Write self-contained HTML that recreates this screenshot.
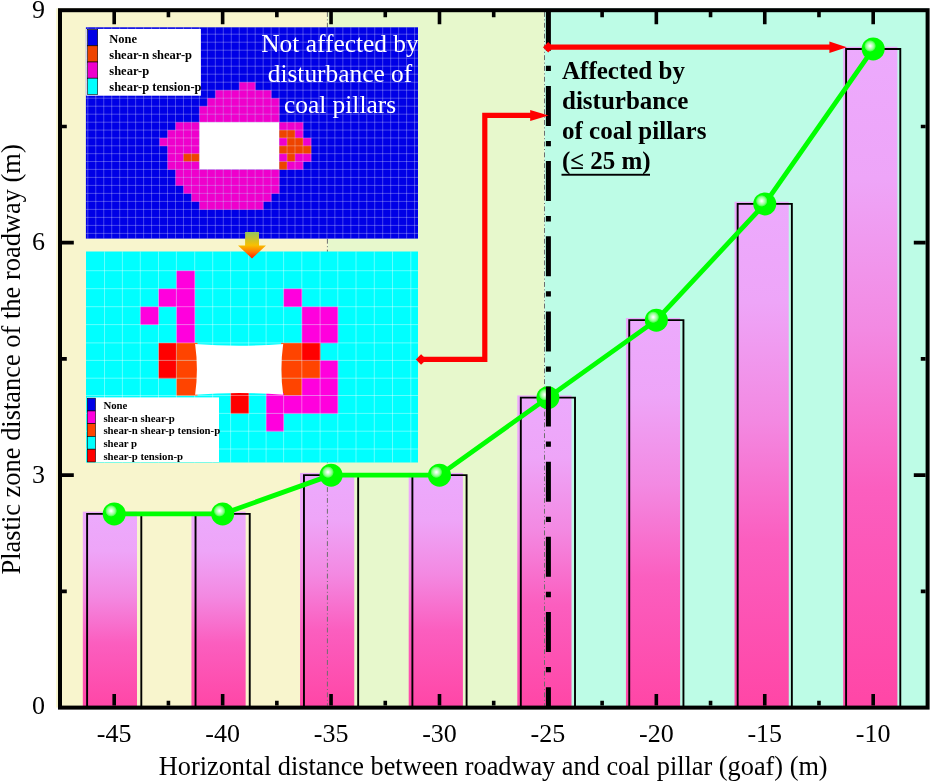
<!DOCTYPE html>
<html><head><meta charset="utf-8"><title>Plastic zone chart</title><style>html,body{margin:0;padding:0;background:#fff;}
svg{display:block;}
text{font-family:"Liberation Serif","Times New Roman",serif;}
.tk{font-size:26px;fill:#000;}
.ax{font-size:26.3px;fill:#000;}
.na{font-size:25.4px;fill:#fff;text-anchor:middle;}
.af{font-size:25px;font-weight:bold;fill:#000;}
.lg1{font-size:12.5px;font-weight:bold;fill:#000;}
.lg2{font-size:10.8px;font-weight:bold;fill:#000;}
</style></head>
<body><svg width="930" height="781" viewBox="0 0 930 781">
<defs>
<linearGradient id="bg" x1="0" y1="0" x2="0" y2="1">
<stop offset="0" stop-color="#ecaafd"/><stop offset="0.2" stop-color="#eea5f8"/><stop offset="0.43" stop-color="#f389e2"/><stop offset="0.67" stop-color="#fb5ebf"/><stop offset="1" stop-color="#ff46a6"/>
</linearGradient>
<linearGradient id="og" x1="0" y1="0" x2="0" y2="1">
<stop offset="0" stop-color="#92c460"/><stop offset="0.5" stop-color="#f8c000"/><stop offset="0.75" stop-color="#ff7a00"/><stop offset="1" stop-color="#ff1a00"/>
</linearGradient>
<radialGradient id="sg" cx="0.365" cy="0.37" r="0.255" fx="0.365" fy="0.37">
<stop offset="0" stop-color="#ffffff"/><stop offset="0.12" stop-color="#f6fff6"/><stop offset="0.38" stop-color="#c4ffc4"/><stop offset="0.68" stop-color="#8cff8c"/><stop offset="0.88" stop-color="#4cff4c"/><stop offset="1" stop-color="#00ff00"/>
</radialGradient>
</defs>
<rect width="930" height="781" fill="#fff"/>
<rect x="56.2" y="8.3" width="271.2" height="699.3" fill="#f8f5cd"/>
<rect x="327.4" y="8.3" width="217.2" height="699.3" fill="#e7f8cc"/>
<rect x="544.6" y="8.3" width="383" height="699.3" fill="#bdfce6"/>
<rect x="82.81" y="511.68" width="54.2" height="195.93" fill="url(#bg)"/>
<rect x="191.44" y="511.68" width="54.2" height="195.93" fill="url(#bg)"/>
<rect x="300.06" y="472.93" width="54.2" height="234.67" fill="url(#bg)"/>
<rect x="408.69" y="472.93" width="54.2" height="234.67" fill="url(#bg)"/>
<rect x="517.31" y="395.44" width="54.2" height="312.16" fill="url(#bg)"/>
<rect x="625.94" y="317.95" width="54.2" height="389.65" fill="url(#bg)"/>
<rect x="734.56" y="201.72" width="54.2" height="505.88" fill="url(#bg)"/>
<rect x="843.19" y="46.74" width="54.2" height="660.87" fill="url(#bg)"/>
<path d="M87.11 707.6V513.88H141.31V707.6" fill="none" stroke="#000" stroke-width="1.9" stroke-linejoin="miter"/>
<path d="M195.54 707.6V513.88H249.74V707.6" fill="none" stroke="#000" stroke-width="1.9" stroke-linejoin="miter"/>
<path d="M303.96 707.6V475.13H358.16V707.6" fill="none" stroke="#000" stroke-width="1.9" stroke-linejoin="miter"/>
<path d="M412.39 707.6V475.13H466.59V707.6" fill="none" stroke="#000" stroke-width="1.9" stroke-linejoin="miter"/>
<path d="M520.81 707.6V397.64H575.01V707.6" fill="none" stroke="#000" stroke-width="1.9" stroke-linejoin="miter"/>
<path d="M629.24 707.6V320.15H683.44V707.6" fill="none" stroke="#000" stroke-width="1.9" stroke-linejoin="miter"/>
<path d="M737.66 707.6V203.92H791.86V707.6" fill="none" stroke="#000" stroke-width="1.9" stroke-linejoin="miter"/>
<path d="M846.09 707.6V48.94H900.29V707.6" fill="none" stroke="#000" stroke-width="1.9" stroke-linejoin="miter"/>
<line x1="327.4" y1="12" x2="327.4" y2="705.6" stroke="#6e6e6e" stroke-width="1" stroke-dasharray="4.9 2.5 1 2.4"/>
<line x1="544.5" y1="12" x2="544.5" y2="705.6" stroke="#6e6e6e" stroke-width="1" stroke-dasharray="4.9 2.5 1 2.4"/>
<rect x="85.9" y="27.3" width="332.1" height="211.3" fill="#0000e6"/>
<rect x="239.25" y="82.2" width="8.27" height="8.3" fill="#ee00cc"/>
<rect x="247.22" y="82.2" width="8.27" height="8.3" fill="#ee00cc"/>
<rect x="215.34" y="90.2" width="8.27" height="8.3" fill="#ee00cc"/>
<rect x="223.31" y="90.2" width="8.27" height="8.3" fill="#ee00cc"/>
<rect x="231.28" y="90.2" width="8.27" height="8.3" fill="#ee00cc"/>
<rect x="239.25" y="90.2" width="8.27" height="8.3" fill="#ee00cc"/>
<rect x="247.22" y="90.2" width="8.27" height="8.3" fill="#ee00cc"/>
<rect x="255.19" y="90.2" width="8.27" height="8.3" fill="#ee00cc"/>
<rect x="263.16" y="90.2" width="8.27" height="8.3" fill="#ee00cc"/>
<rect x="207.37" y="98.2" width="8.27" height="8.3" fill="#ee00cc"/>
<rect x="215.34" y="98.2" width="8.27" height="8.3" fill="#ee00cc"/>
<rect x="223.31" y="98.2" width="8.27" height="8.3" fill="#ee00cc"/>
<rect x="231.28" y="98.2" width="8.27" height="8.3" fill="#ee00cc"/>
<rect x="239.25" y="98.2" width="8.27" height="8.3" fill="#ee00cc"/>
<rect x="247.22" y="98.2" width="8.27" height="8.3" fill="#ee00cc"/>
<rect x="255.19" y="98.2" width="8.27" height="8.3" fill="#ee00cc"/>
<rect x="263.16" y="98.2" width="8.27" height="8.3" fill="#ee00cc"/>
<rect x="271.13" y="98.2" width="8.27" height="8.3" fill="#ee00cc"/>
<rect x="199.4" y="106.2" width="8.27" height="8.3" fill="#ee00cc"/>
<rect x="207.37" y="106.2" width="8.27" height="8.3" fill="#ee00cc"/>
<rect x="215.34" y="106.2" width="8.27" height="8.3" fill="#ee00cc"/>
<rect x="223.31" y="106.2" width="8.27" height="8.3" fill="#ee00cc"/>
<rect x="231.28" y="106.2" width="8.27" height="8.3" fill="#ee00cc"/>
<rect x="239.25" y="106.2" width="8.27" height="8.3" fill="#ee00cc"/>
<rect x="247.22" y="106.2" width="8.27" height="8.3" fill="#ee00cc"/>
<rect x="255.19" y="106.2" width="8.27" height="8.3" fill="#ee00cc"/>
<rect x="263.16" y="106.2" width="8.27" height="8.3" fill="#ee00cc"/>
<rect x="271.13" y="106.2" width="8.27" height="8.3" fill="#ee00cc"/>
<rect x="199.4" y="114.2" width="8.27" height="8.3" fill="#ee00cc"/>
<rect x="207.37" y="114.2" width="8.27" height="8.3" fill="#ee00cc"/>
<rect x="215.34" y="114.2" width="8.27" height="8.3" fill="#ee00cc"/>
<rect x="223.31" y="114.2" width="8.27" height="8.3" fill="#ee00cc"/>
<rect x="231.28" y="114.2" width="8.27" height="8.3" fill="#ee00cc"/>
<rect x="239.25" y="114.2" width="8.27" height="8.3" fill="#ee00cc"/>
<rect x="247.22" y="114.2" width="8.27" height="8.3" fill="#ee00cc"/>
<rect x="255.19" y="114.2" width="8.27" height="8.3" fill="#ee00cc"/>
<rect x="263.16" y="114.2" width="8.27" height="8.3" fill="#ee00cc"/>
<rect x="271.13" y="114.2" width="8.27" height="8.3" fill="#ee00cc"/>
<rect x="175.49" y="122.2" width="8.27" height="8.17" fill="#ee00cc"/>
<rect x="183.46" y="122.2" width="8.27" height="8.17" fill="#ee00cc"/>
<rect x="191.43" y="122.2" width="8.27" height="8.17" fill="#ee00cc"/>
<rect x="279.1" y="122.2" width="8.27" height="8.17" fill="#ee00cc"/>
<rect x="287.07" y="122.2" width="8.27" height="8.17" fill="#ee00cc"/>
<rect x="295.04" y="122.2" width="8.27" height="8.17" fill="#ee00cc"/>
<rect x="167.52" y="130.07" width="8.27" height="8.17" fill="#ee00cc"/>
<rect x="175.49" y="130.07" width="8.27" height="8.17" fill="#ee00cc"/>
<rect x="183.46" y="130.07" width="8.27" height="8.17" fill="#ee00cc"/>
<rect x="191.43" y="130.07" width="8.27" height="8.17" fill="#ee00cc"/>
<rect x="279.1" y="130.07" width="8.27" height="8.17" fill="#ee4400"/>
<rect x="287.07" y="130.07" width="8.27" height="8.17" fill="#ee4400"/>
<rect x="295.04" y="130.07" width="8.27" height="8.17" fill="#ee00cc"/>
<rect x="159.55" y="137.93" width="8.27" height="8.17" fill="#ee00cc"/>
<rect x="167.52" y="137.93" width="8.27" height="8.17" fill="#ee00cc"/>
<rect x="175.49" y="137.93" width="8.27" height="8.17" fill="#ee00cc"/>
<rect x="183.46" y="137.93" width="8.27" height="8.17" fill="#ee00cc"/>
<rect x="191.43" y="137.93" width="8.27" height="8.17" fill="#ee00cc"/>
<rect x="279.1" y="137.93" width="8.27" height="8.17" fill="#ee00cc"/>
<rect x="287.07" y="137.93" width="8.27" height="8.17" fill="#ee4400"/>
<rect x="295.04" y="137.93" width="8.27" height="8.17" fill="#ee4400"/>
<rect x="303.01" y="137.93" width="8.27" height="8.17" fill="#ee00cc"/>
<rect x="167.52" y="145.8" width="8.27" height="8.17" fill="#ee00cc"/>
<rect x="175.49" y="145.8" width="8.27" height="8.17" fill="#ee00cc"/>
<rect x="183.46" y="145.8" width="8.27" height="8.17" fill="#ee00cc"/>
<rect x="191.43" y="145.8" width="8.27" height="8.17" fill="#ee00cc"/>
<rect x="279.1" y="145.8" width="8.27" height="8.17" fill="#ee4400"/>
<rect x="287.07" y="145.8" width="8.27" height="8.17" fill="#ee4400"/>
<rect x="295.04" y="145.8" width="8.27" height="8.17" fill="#ee4400"/>
<rect x="303.01" y="145.8" width="8.27" height="8.17" fill="#ee4400"/>
<rect x="167.52" y="153.67" width="8.27" height="8.17" fill="#ee00cc"/>
<rect x="175.49" y="153.67" width="8.27" height="8.17" fill="#ee00cc"/>
<rect x="183.46" y="153.67" width="8.27" height="8.17" fill="#ee4400"/>
<rect x="191.43" y="153.67" width="8.27" height="8.17" fill="#ee4400"/>
<rect x="279.1" y="153.67" width="8.27" height="8.17" fill="#ee00cc"/>
<rect x="287.07" y="153.67" width="8.27" height="8.17" fill="#ee4400"/>
<rect x="295.04" y="153.67" width="8.27" height="8.17" fill="#ee00cc"/>
<rect x="303.01" y="153.67" width="8.27" height="8.17" fill="#ee00cc"/>
<rect x="167.52" y="161.53" width="8.27" height="8.17" fill="#ee00cc"/>
<rect x="175.49" y="161.53" width="8.27" height="8.17" fill="#ee00cc"/>
<rect x="183.46" y="161.53" width="8.27" height="8.17" fill="#ee00cc"/>
<rect x="191.43" y="161.53" width="8.27" height="8.17" fill="#ee00cc"/>
<rect x="279.1" y="161.53" width="8.27" height="8.17" fill="#ee4400"/>
<rect x="287.07" y="161.53" width="8.27" height="8.17" fill="#ee00cc"/>
<rect x="295.04" y="161.53" width="8.27" height="8.17" fill="#ee00cc"/>
<rect x="175.49" y="169.4" width="8.27" height="8.3" fill="#ee00cc"/>
<rect x="183.46" y="169.4" width="8.27" height="8.3" fill="#ee00cc"/>
<rect x="191.43" y="169.4" width="8.27" height="8.3" fill="#ee00cc"/>
<rect x="199.4" y="169.4" width="8.27" height="8.3" fill="#ee00cc"/>
<rect x="207.37" y="169.4" width="8.27" height="8.3" fill="#ee00cc"/>
<rect x="215.34" y="169.4" width="8.27" height="8.3" fill="#ee00cc"/>
<rect x="223.31" y="169.4" width="8.27" height="8.3" fill="#ee00cc"/>
<rect x="231.28" y="169.4" width="8.27" height="8.3" fill="#ee00cc"/>
<rect x="239.25" y="169.4" width="8.27" height="8.3" fill="#ee00cc"/>
<rect x="247.22" y="169.4" width="8.27" height="8.3" fill="#ee00cc"/>
<rect x="255.19" y="169.4" width="8.27" height="8.3" fill="#ee00cc"/>
<rect x="263.16" y="169.4" width="8.27" height="8.3" fill="#ee00cc"/>
<rect x="271.13" y="169.4" width="8.27" height="8.3" fill="#ee00cc"/>
<rect x="175.49" y="177.4" width="8.27" height="8.3" fill="#ee00cc"/>
<rect x="183.46" y="177.4" width="8.27" height="8.3" fill="#ee00cc"/>
<rect x="191.43" y="177.4" width="8.27" height="8.3" fill="#ee00cc"/>
<rect x="199.4" y="177.4" width="8.27" height="8.3" fill="#ee00cc"/>
<rect x="207.37" y="177.4" width="8.27" height="8.3" fill="#ee00cc"/>
<rect x="215.34" y="177.4" width="8.27" height="8.3" fill="#ee00cc"/>
<rect x="223.31" y="177.4" width="8.27" height="8.3" fill="#ee00cc"/>
<rect x="231.28" y="177.4" width="8.27" height="8.3" fill="#ee00cc"/>
<rect x="239.25" y="177.4" width="8.27" height="8.3" fill="#ee00cc"/>
<rect x="247.22" y="177.4" width="8.27" height="8.3" fill="#ee00cc"/>
<rect x="255.19" y="177.4" width="8.27" height="8.3" fill="#ee00cc"/>
<rect x="263.16" y="177.4" width="8.27" height="8.3" fill="#ee00cc"/>
<rect x="271.13" y="177.4" width="8.27" height="8.3" fill="#ee00cc"/>
<rect x="183.46" y="185.4" width="8.27" height="8.3" fill="#ee00cc"/>
<rect x="191.43" y="185.4" width="8.27" height="8.3" fill="#ee00cc"/>
<rect x="199.4" y="185.4" width="8.27" height="8.3" fill="#ee00cc"/>
<rect x="207.37" y="185.4" width="8.27" height="8.3" fill="#ee00cc"/>
<rect x="215.34" y="185.4" width="8.27" height="8.3" fill="#ee00cc"/>
<rect x="223.31" y="185.4" width="8.27" height="8.3" fill="#ee00cc"/>
<rect x="231.28" y="185.4" width="8.27" height="8.3" fill="#ee00cc"/>
<rect x="239.25" y="185.4" width="8.27" height="8.3" fill="#ee00cc"/>
<rect x="247.22" y="185.4" width="8.27" height="8.3" fill="#ee00cc"/>
<rect x="255.19" y="185.4" width="8.27" height="8.3" fill="#ee00cc"/>
<rect x="263.16" y="185.4" width="8.27" height="8.3" fill="#ee00cc"/>
<rect x="271.13" y="185.4" width="8.27" height="8.3" fill="#ee00cc"/>
<rect x="191.43" y="193.4" width="8.27" height="8.3" fill="#ee00cc"/>
<rect x="199.4" y="193.4" width="8.27" height="8.3" fill="#ee00cc"/>
<rect x="207.37" y="193.4" width="8.27" height="8.3" fill="#ee00cc"/>
<rect x="215.34" y="193.4" width="8.27" height="8.3" fill="#ee00cc"/>
<rect x="223.31" y="193.4" width="8.27" height="8.3" fill="#ee00cc"/>
<rect x="231.28" y="193.4" width="8.27" height="8.3" fill="#ee00cc"/>
<rect x="239.25" y="193.4" width="8.27" height="8.3" fill="#ee00cc"/>
<rect x="247.22" y="193.4" width="8.27" height="8.3" fill="#ee00cc"/>
<rect x="255.19" y="193.4" width="8.27" height="8.3" fill="#ee00cc"/>
<rect x="263.16" y="193.4" width="8.27" height="8.3" fill="#ee00cc"/>
<rect x="199.4" y="201.4" width="8.27" height="8.3" fill="#ee00cc"/>
<rect x="207.37" y="201.4" width="8.27" height="8.3" fill="#ee00cc"/>
<rect x="215.34" y="201.4" width="8.27" height="8.3" fill="#ee00cc"/>
<rect x="223.31" y="201.4" width="8.27" height="8.3" fill="#ee00cc"/>
<rect x="231.28" y="201.4" width="8.27" height="8.3" fill="#ee00cc"/>
<rect x="239.25" y="201.4" width="8.27" height="8.3" fill="#ee00cc"/>
<rect x="247.22" y="201.4" width="8.27" height="8.3" fill="#ee00cc"/>
<rect x="255.19" y="201.4" width="8.27" height="8.3" fill="#ee00cc"/>
<rect x="199.4" y="122.2" width="79.7" height="47.2" fill="#fff"/>
<path d="M87.82 27.3V238.6M95.79 27.3V238.6M103.76 27.3V238.6M111.73 27.3V238.6M119.7 27.3V238.6M127.67 27.3V238.6M135.64 27.3V238.6M143.61 27.3V238.6M151.58 27.3V238.6M159.55 27.3V238.6M167.52 27.3V238.6M175.49 27.3V238.6M183.46 27.3V238.6M191.43 27.3V238.6M199.4 27.3V238.6M207.37 27.3V238.6M215.34 27.3V238.6M223.31 27.3V238.6M231.28 27.3V238.6M239.25 27.3V238.6M247.22 27.3V238.6M255.19 27.3V238.6M263.16 27.3V238.6M271.13 27.3V238.6M279.1 27.3V238.6M287.07 27.3V238.6M295.04 27.3V238.6M303.01 27.3V238.6M310.98 27.3V238.6M318.95 27.3V238.6M326.92 27.3V238.6M334.89 27.3V238.6M342.86 27.3V238.6M350.83 27.3V238.6M358.8 27.3V238.6M366.77 27.3V238.6M374.74 27.3V238.6M382.71 27.3V238.6M390.68 27.3V238.6M398.65 27.3V238.6M406.62 27.3V238.6M414.59 27.3V238.6M85.9 34.2H418.0M85.9 42.2H418.0M85.9 50.2H418.0M85.9 58.2H418.0M85.9 66.2H418.0M85.9 74.2H418.0M85.9 82.2H418.0M85.9 90.2H418.0M85.9 98.2H418.0M85.9 106.2H418.0M85.9 114.2H418.0M85.9 122.2H418.0M85.9 130.07H418.0M85.9 137.93H418.0M85.9 145.8H418.0M85.9 153.67H418.0M85.9 161.53H418.0M85.9 169.4H418.0M85.9 177.4H418.0M85.9 185.4H418.0M85.9 193.4H418.0M85.9 201.4H418.0M85.9 209.4H418.0M85.9 217.4H418.0M85.9 225.4H418.0M85.9 233.4H418.0" stroke="#ffffff" stroke-opacity="0.28" stroke-width="1" fill="none"/>
<rect x="86.2" y="28.9" width="114.7" height="66.8" fill="#fff"/>
<rect x="87.6" y="29.6" width="10.1" height="16.2" fill="#0000e6" stroke="#000" stroke-width="0.6"/>
<rect x="87.6" y="45.8" width="10.1" height="16.2" fill="#ee4400" stroke="#000" stroke-width="0.6"/>
<rect x="87.6" y="62" width="10.1" height="16.2" fill="#ee00cc" stroke="#000" stroke-width="0.6"/>
<rect x="87.6" y="78.2" width="10.1" height="16.2" fill="#00ffff" stroke="#000" stroke-width="0.6"/>
<text x="109.3" y="42.9" class="lg1">None</text>
<text x="109.3" y="58.9" class="lg1">shear-n shear-p</text>
<text x="109.3" y="74.9" class="lg1">shear-p</text>
<text x="109.3" y="90.9" class="lg1">shear-p tension-p</text>
<text x="340" y="51.7" class="na">Not affected by</text>
<text x="340" y="82.45" class="na">disturbance of</text>
<text x="340" y="113.2" class="na">coal pillars</text>
<rect x="86" y="251.5" width="332" height="211" fill="#00ffff"/>
<rect x="176.4" y="270.7" width="18.6" height="18.3" fill="#ff00dd"/>
<rect x="176.4" y="288.7" width="18.6" height="18.3" fill="#ff00dd"/>
<rect x="158.5" y="288.7" width="18.2" height="18.3" fill="#ff00dd"/>
<rect x="283.6" y="288.7" width="18.5" height="18.3" fill="#ff00dd"/>
<rect x="176.4" y="306.7" width="18.6" height="18.2" fill="#ff00dd"/>
<rect x="140.3" y="306.7" width="18.5" height="18.2" fill="#ff00dd"/>
<rect x="301.8" y="306.7" width="18.6" height="18.2" fill="#ff00dd"/>
<rect x="320.1" y="306.7" width="18" height="18.2" fill="#ff00dd"/>
<rect x="176.4" y="324.6" width="18.6" height="18.6" fill="#ff00dd"/>
<rect x="301.8" y="324.6" width="18.6" height="18.6" fill="#ff00dd"/>
<rect x="320.1" y="324.6" width="18" height="18.6" fill="#ff00dd"/>
<rect x="158.5" y="342.9" width="18.2" height="17.8" fill="#ff0000"/>
<rect x="158.5" y="360.4" width="18.2" height="18.1" fill="#ff0000"/>
<rect x="176.4" y="342.9" width="21.1" height="17.8" fill="#ff4400"/>
<rect x="281.1" y="342.9" width="21" height="17.8" fill="#ff4400"/>
<rect x="176.4" y="360.4" width="21.1" height="18.1" fill="#ff4400"/>
<rect x="281.1" y="360.4" width="21" height="18.1" fill="#ff4400"/>
<rect x="301.8" y="360.4" width="18.6" height="18.1" fill="#ff4400"/>
<rect x="176.4" y="378.2" width="21.1" height="17.6" fill="#ff4400"/>
<rect x="281.1" y="378.2" width="21" height="17.6" fill="#ff4400"/>
<rect x="301.8" y="342.9" width="18.6" height="17.8" fill="#ff0000"/>
<rect x="301.8" y="378.2" width="18.6" height="17.6" fill="#ff00dd"/>
<rect x="320.1" y="378.2" width="18" height="17.6" fill="#ff00dd"/>
<rect x="320.1" y="360.4" width="18" height="18.1" fill="#ff00dd"/>
<rect x="230.6" y="393" width="18.4" height="20.7" fill="#ff0000"/>
<rect x="266.1" y="393" width="17.8" height="20.7" fill="#ff00dd"/>
<rect x="283.6" y="395.5" width="18.5" height="18.2" fill="#ff00dd"/>
<rect x="301.8" y="395.5" width="18.6" height="18.2" fill="#ff00dd"/>
<rect x="320.1" y="395.5" width="18" height="18.2" fill="#ff00dd"/>
<rect x="266.1" y="413.4" width="17.8" height="18.1" fill="#ff00dd"/>
<path d="M104.5 251.5V462.5M122.4 251.5V462.5M140.3 251.5V462.5M158.5 251.5V462.5M176.4 251.5V462.5M194.7 251.5V342.9M194.7 395.5V462.5M212.7 251.5V462.5M230.6 251.5V462.5M248.7 251.5V462.5M266.1 251.5V462.5M283.6 251.5V342.9M283.6 395.5V462.5M301.8 251.5V462.5M320.1 251.5V462.5M337.8 251.5V462.5M356 251.5V462.5M374.3 251.5V462.5M392.5 251.5V462.5M410.8 251.5V462.5M86 270.7H418M86 288.7H418M86 306.7H418M86 324.6H418M86 342.9H418M86 360.4H418M86 378.2H418M86 395.5H418M86 413.4H418M86 431.2H418M86 449H418" stroke="#ffffff" stroke-opacity="0.38" stroke-width="1" fill="none"/>
<path d="M195.1 344 Q239 347.6 283.2 344 Q279.6 369.4 283.2 394.8 Q239 391.2 195.1 394.8 Q198.7 369.4 195.1 344Z" fill="#fff"/>
<rect x="86.9" y="397.4" width="132.1" height="64.6" fill="#fff"/>
<rect x="87.3" y="398.2" width="8.2" height="12.75" fill="#0000e6" stroke="#000" stroke-width="0.6"/>
<rect x="87.3" y="410.95" width="8.2" height="12.75" fill="#ff00dd" stroke="#000" stroke-width="0.6"/>
<rect x="87.3" y="423.7" width="8.2" height="12.75" fill="#ff4400" stroke="#000" stroke-width="0.6"/>
<rect x="87.3" y="436.45" width="8.2" height="12.75" fill="#00ffff" stroke="#000" stroke-width="0.6"/>
<rect x="87.3" y="449.2" width="8.2" height="12.75" fill="#ff0000" stroke="#000" stroke-width="0.6"/>
<text x="103.4" y="408.9" class="lg2">None</text>
<text x="103.4" y="421.6" class="lg2">shear-n shear-p</text>
<text x="103.4" y="434.3" class="lg2">shear-n shear-p tension-p</text>
<text x="103.4" y="447" class="lg2">shear p</text>
<text x="103.4" y="459.7" class="lg2">shear-p tension-p</text>
<path d="M245.1 232H259V245.4H266L252 258.5L238 245.4H245.1Z" fill="url(#og)"/>
<polyline points="114.21,513.88 222.64,513.88 331.06,475.13 439.49,475.13 547.91,397.64 656.34,320.15 764.76,203.92 873.19,48.94" fill="none" stroke="#00ff00" stroke-width="4.8" stroke-linejoin="round"/>
<circle cx="114.21" cy="513.88" r="11.5" fill="url(#sg)"/>
<circle cx="222.64" cy="513.88" r="11.5" fill="url(#sg)"/>
<circle cx="331.06" cy="475.13" r="11.5" fill="url(#sg)"/>
<circle cx="439.49" cy="475.13" r="11.5" fill="url(#sg)"/>
<circle cx="547.91" cy="397.64" r="11.5" fill="url(#sg)"/>
<circle cx="656.34" cy="320.15" r="11.5" fill="url(#sg)"/>
<circle cx="764.76" cy="203.92" r="11.5" fill="url(#sg)"/>
<circle cx="873.19" cy="48.94" r="11.5" fill="url(#sg)"/>
<line x1="548.4" y1="10.8" x2="548.4" y2="707.6" stroke="#000" stroke-width="5" stroke-dasharray="40 15 5.3 14.85"/>
<path d="M548 47.2H831" stroke="#ff0000" stroke-width="5.2" fill="none"/>
<path d="M543 47.2L548.2 42L553.4 47.2L548.2 52.4Z" fill="#ff0000"/>
<path d="M829.4 41.6L846.8 47.2L829.4 53.1Z" fill="#ff0000"/>
<path d="M421 359.4H484.8V115.4H532" stroke="#ff0000" stroke-width="5.2" fill="none" stroke-linejoin="miter"/>
<path d="M415.8 359.5L421.1 354.2L426.4 359.5L421.1 364.8Z" fill="#ff0000"/>
<path d="M530.2 110L548.6 115.4L530.2 121Z" fill="#ff0000"/>
<rect x="60" y="10.2" width="867.6" height="697.4" fill="none" stroke="#000" stroke-width="4"/>
<path d="M114.21 705.6V694M114.21 12V24.3M222.64 705.6V694M222.64 12V24.3M331.06 705.6V694M331.06 12V24.3M439.49 705.6V694M439.49 12V24.3M547.91 705.6V694M547.91 12V24.3M656.34 705.6V694M656.34 12V24.3M764.76 705.6V694M764.76 12V24.3M873.19 705.6V694M873.19 12V24.3M168.43 705.6V700.8M168.43 12V17.2M276.85 705.6V700.8M276.85 12V17.2M385.27 705.6V700.8M385.27 12V17.2M493.7 705.6V700.8M493.7 12V17.2M602.12 705.6V700.8M602.12 12V17.2M710.55 705.6V700.8M710.55 12V17.2M818.97 705.6V700.8M818.97 12V17.2M62 475.13H73.8M925.6 475.13H913.8M62 242.66H73.8M925.6 242.66H913.8M62 591.37H66.8M925.6 591.37H920.8M62 358.9H66.8M925.6 358.9H920.8M62 126.43H66.8M925.6 126.43H920.8" stroke="#000" stroke-width="3.6" fill="none"/>
<text x="45" y="714.2" class="tk" text-anchor="end">0</text>
<text x="45" y="483.03" class="tk" text-anchor="end">3</text>
<text x="45" y="250.46" class="tk" text-anchor="end">6</text>
<text x="45" y="18.29" class="tk" text-anchor="end">9</text>
<text x="114.21" y="742" class="tk" text-anchor="middle">-45</text>
<text x="222.64" y="742" class="tk" text-anchor="middle">-40</text>
<text x="331.06" y="742" class="tk" text-anchor="middle">-35</text>
<text x="439.49" y="742" class="tk" text-anchor="middle">-30</text>
<text x="547.91" y="742" class="tk" text-anchor="middle">-25</text>
<text x="656.34" y="742" class="tk" text-anchor="middle">-20</text>
<text x="764.76" y="742" class="tk" text-anchor="middle">-15</text>
<text x="873.19" y="742" class="tk" text-anchor="middle">-10</text>
<text x="493.2" y="775" class="ax" text-anchor="middle">Horizontal distance between roadway and coal pillar (goaf) (m)</text>
<text transform="translate(19.5 359.4) rotate(-90)" x="0" y="0" class="ax" style="font-size:26.45px" text-anchor="middle">Plastic zone distance of the roadway (m)</text>
<text x="562" y="79.1" class="af">Affected by</text>
<text x="562" y="109" class="af">disturbance</text>
<text x="562" y="138.9" class="af">of coal pillars</text>
<text x="562" y="168.7" class="af">(&#8804; 25 m)</text>
<rect x="561.5" y="173.8" width="88.5" height="1.9" fill="#000"/>
</svg></body></html>
